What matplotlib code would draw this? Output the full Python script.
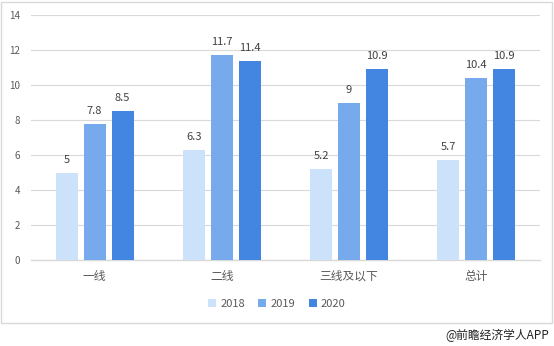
import numpy as np
import matplotlib
matplotlib.use('Agg')
import matplotlib.pyplot as plt
from matplotlib.patches import Rectangle

plt.rcParams['font.family'] = ['Noto Sans CJK SC', 'DejaVu Sans']

categories = ['一线', '二线', '三线及以下', '总计']
years = ['2018', '2019', '2020']
v2018 = [5, 6.3, 5.2, 5.7]
v2019 = [7.8, 11.7, 9, 10.4]
v2020 = [8.5, 11.4, 10.9, 10.9]
y_ticks = [0, 2, 4, 6, 8, 10, 12, 14]

colors = ['#CCE1FA', '#77AAEC', '#4286E1']
text_gray = '#595959'

fig = plt.figure(figsize=(5.54, 3.46), dpi=100)
ax = fig.add_axes([31 / 554, 1 - 260 / 346, 509 / 554, 245 / 346])

x = np.arange(len(categories))
width = 0.172
step = 0.22
for i, (vals, c) in enumerate(zip([v2018, v2019, v2020], colors)):
    pos = x + (i - 1) * step
    ax.bar(pos, vals, width=width, color=c, label=years[i], zorder=3)
    for px, v in zip(pos, vals):
        ax.text(px, v + 0.45, f'{v:g}', ha='center', va='bottom',
                fontsize=8, color='#404040', zorder=4)

ax.set_xlim(-0.5, len(categories) - 0.5)
ax.set_ylim(0, 14)
ax.set_yticks(y_ticks)
ax.set_xticks(x)
ax.set_xticklabels(categories, fontsize=8.5, color=text_gray)
ax.tick_params(axis='y', labelsize=7, colors=text_gray, length=0, pad=8)
ax.tick_params(axis='x', length=0, pad=7)
ax.grid(axis='y', color='#D9D9D9', linewidth=0.8, zorder=0)
for s in ['top', 'right', 'left']:
    ax.spines[s].set_visible(False)
ax.spines['bottom'].set_color('#D9D9D9')
ax.spines['bottom'].set_linewidth(1)

leg = fig.legend(loc='center', bbox_to_anchor=(0.5, 1 - 304 / 346), ncol=3,
                 frameon=False, fontsize=8, handlelength=0.7, handleheight=0.7,
                 columnspacing=1.2, handletextpad=0.4)
for t in leg.get_texts():
    t.set_color(text_gray)

# outer frame around the chart
fig.patches.append(Rectangle((1 / 554, 1 - 323 / 346), 551 / 554, 321 / 346,
                             transform=fig.transFigure, fill=False,
                             edgecolor='#D9D9D9', linewidth=1))

fig.text(549 / 554, 1 - 335 / 346, '@前瞻经济学人APP', ha='right', va='center',
         fontsize=8.5, color='#222222')

fig.savefig('out.png', dpi=100)
